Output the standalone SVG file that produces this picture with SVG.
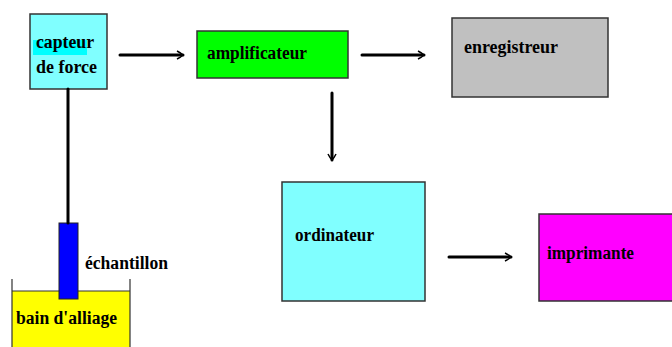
<svg xmlns="http://www.w3.org/2000/svg" width="672" height="347" viewBox="0 0 672 347">
<defs>
<style>
.box{stroke:#333;stroke-width:1.5}
.t{font-family:"Liberation Serif","Times New Roman",serif;font-weight:bold;font-size:18px;fill:#000}
.ln{stroke:#000;stroke-width:3;fill:none;stroke-linecap:round}
</style>
<marker id="ah" markerWidth="10" markerHeight="10" refX="8" refY="5" orient="auto" markerUnits="userSpaceOnUse">
<path d="M2,1 Q6,3 8,5 Q6,7 2,9" fill="none" stroke="#000" stroke-width="1.5"/>
</marker>
</defs>
<rect width="672" height="347" fill="#fff"/>
<g id="capteur">
<rect class="box" x="30" y="14" width="77" height="75" fill="#80ffff"/>
<rect x="33" y="40" width="54" height="15" fill="#00ffff"/>
<text class="t" x="36" y="48" textLength="58" lengthAdjust="spacingAndGlyphs">capteur</text>
<text class="t" x="36" y="73" textLength="61" lengthAdjust="spacingAndGlyphs">de force</text>
</g>
<g id="amplificateur">
<rect class="box" x="197" y="31" width="151" height="47" fill="#00ff00"/>
<text class="t" x="207" y="59" textLength="100" lengthAdjust="spacingAndGlyphs">amplificateur</text>
</g>
<g id="enregistreur">
<rect class="box" x="452" y="18" width="156" height="79" fill="#c0c0c0"/>
<text class="t" x="464" y="53" textLength="94" lengthAdjust="spacingAndGlyphs">enregistreur</text>
</g>
<g id="ordinateur">
<rect class="box" x="282" y="182" width="143" height="119" fill="#80ffff"/>
<text class="t" x="295" y="241" textLength="79" lengthAdjust="spacingAndGlyphs">ordinateur</text>
</g>
<g id="imprimante">
<rect class="box" x="539" y="214" width="140" height="87" fill="#ff00ff"/>
<text class="t" x="547" y="259" textLength="87" lengthAdjust="spacingAndGlyphs">imprimante</text>
</g>
<g id="bain">
<rect x="12" y="291" width="118" height="60" fill="#ffff00"/>
<path d="M12,279 V347 M130,279 V347 M12,291 H130" stroke="#333" stroke-width="1.2" fill="none"/>
<text class="t" x="16" y="324" textLength="101" lengthAdjust="spacingAndGlyphs">bain d'alliage</text>
</g>
<g id="echantillon">
<rect x="59" y="223" width="19" height="76" fill="#0000ff" stroke="#222" stroke-width="1"/>
<text class="t" x="85" y="269" textLength="83" lengthAdjust="spacingAndGlyphs">échantillon</text>
</g>
<g id="connectors">
<line class="ln" x1="68" y1="89" x2="68" y2="223"/>
<line class="ln" x1="120" y1="55" x2="183" y2="55" marker-end="url(#ah)"/>
<line class="ln" x1="362" y1="55" x2="424" y2="55" marker-end="url(#ah)"/>
<line class="ln" x1="332" y1="93" x2="332" y2="160" marker-end="url(#ah)"/>
<line class="ln" x1="449" y1="257" x2="511" y2="257" marker-end="url(#ah)"/>
</g>
</svg>
